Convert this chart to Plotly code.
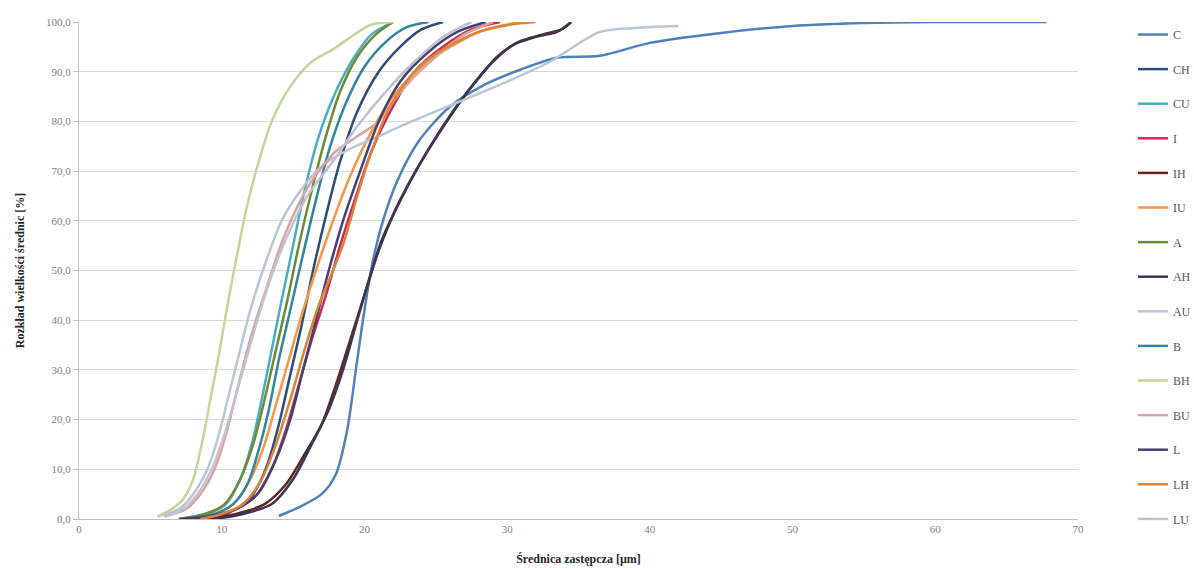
import plotly.graph_objects as go

# Cumulative diameter distributions: equivalent diameter [µm] vs. cumulative share [%]
C_x = [14.0, 15.5, 17.0, 18.0, 18.8, 19.4, 20.0, 20.6, 21.3, 22.3, 23.8, 26.0, 28.5, 31.0, 33.5, 36.5, 40.0, 45.0, 50.0, 55.0, 60.0, 67.8]
C_y = [0.6, 2.5, 5.0, 9.0, 18.0, 30.0, 42.0, 52.0, 60.0, 68.0, 76.0, 83.0, 87.5, 90.5, 92.8, 93.2, 95.8, 97.8, 99.2, 99.8, 100.0, 100.0]

CH_x = [8.0, 9.8, 11.0, 12.2, 13.2, 14.0, 14.8, 15.6, 16.4, 17.3, 18.3, 19.5, 21.0, 22.5, 24.0, 25.5]
CH_y = [0.0, 0.5, 2.0, 5.0, 11.0, 19.0, 29.0, 39.0, 50.0, 61.0, 72.0, 82.0, 90.0, 95.0, 98.5, 100.0]

CU_x = [7.5, 9.0, 10.3, 11.3, 12.1, 12.8, 13.5, 14.2, 15.0, 15.8, 16.8, 18.0, 19.3, 20.5, 22.0]
CU_y = [0.0, 1.0, 3.0, 8.0, 15.0, 24.0, 34.0, 44.0, 55.0, 66.0, 77.0, 86.0, 93.0, 97.5, 100.0]

I_x = [7.5, 9.5, 11.0, 12.5, 13.5, 14.5, 15.4, 16.3, 17.3, 18.3, 19.3, 20.5, 22.0, 23.5, 25.5, 27.5, 29.5]
I_y = [0.0, 0.5, 2.0, 5.0, 10.0, 18.0, 27.0, 36.0, 45.0, 55.0, 64.0, 74.0, 83.0, 90.0, 95.0, 98.5, 100.0]

IH_x = [9.0, 11.0, 13.0, 14.5, 15.8, 17.0, 18.0, 19.0, 20.0, 21.0, 22.3, 24.0, 26.0, 27.5, 29.0, 30.5, 32.0, 33.5, 34.4]
IH_y = [0.0, 1.0, 3.0, 7.0, 13.0, 19.0, 27.0, 36.0, 45.0, 54.0, 63.0, 72.0, 81.0, 87.0, 92.0, 95.5, 97.0, 98.0, 99.8]

IU_x = [8.0, 9.5, 10.8, 12.0, 13.0, 13.8, 14.7, 15.6, 16.6, 17.8, 19.0, 20.5, 22.0, 24.0, 26.0, 28.5, 31.0]
IU_y = [0.0, 1.0, 3.0, 8.0, 15.0, 23.0, 32.0, 41.0, 50.0, 60.0, 69.0, 78.0, 85.0, 91.0, 95.0, 98.5, 100.0]

A_x = [7.0, 8.8, 10.2, 11.3, 12.2, 13.0, 13.8, 14.6, 15.4, 16.3, 17.3, 18.3, 19.5, 20.8, 22.0]
A_y = [0.0, 1.0, 3.0, 8.0, 15.0, 24.0, 34.0, 44.0, 55.0, 66.0, 77.0, 86.0, 93.0, 97.5, 100.0]

AH_x = [9.5, 11.5, 13.5, 15.0, 16.3, 17.5, 18.5, 19.4, 20.3, 21.2, 22.5, 24.2, 26.2, 27.8, 29.3, 30.8, 32.5, 33.8, 34.5]
AH_y = [0.0, 1.0, 3.0, 8.0, 15.0, 22.0, 30.0, 39.0, 48.0, 56.0, 64.0, 73.0, 82.0, 88.0, 93.0, 96.0, 97.5, 98.5, 100.0]

AU_x = [5.5, 7.0, 8.0, 9.0, 9.8, 10.5, 11.2, 12.0, 13.0, 14.2, 15.5, 17.0, 19.0, 21.0, 22.5, 25.0, 27.5, 30.0, 33.0, 36.5, 39.0, 42.0]
AU_y = [0.5, 2.0, 5.0, 10.0, 17.0, 25.0, 33.0, 42.0, 51.0, 60.0, 66.0, 71.0, 74.5, 77.0, 79.0, 82.0, 85.0, 88.0, 92.0, 98.0, 98.8, 99.2]

B_x = [7.5, 9.5, 10.8, 11.8, 12.6, 13.3, 14.0, 14.8, 15.6, 16.5, 17.5, 18.6, 20.0, 21.5, 23.0, 24.5]
B_y = [0.0, 1.0, 3.0, 7.0, 14.0, 22.0, 32.0, 42.0, 52.0, 63.0, 74.0, 83.0, 91.0, 96.0, 99.0, 100.0]

BH_x = [5.5, 6.5, 7.3, 8.0, 8.6, 9.2, 9.8, 10.4, 11.0, 11.7, 12.5, 13.5, 14.8, 16.3, 17.8, 19.3, 20.5, 22.0]
BH_y = [0.5, 2.0, 4.0, 8.0, 15.0, 24.0, 33.0, 43.0, 52.0, 62.0, 71.0, 80.0, 87.0, 92.0, 94.5, 97.5, 99.5, 100.0]

BU_x = [6.0, 7.5, 8.5, 9.5, 10.3, 11.0, 11.7, 12.4, 13.2, 14.0, 15.0, 16.3, 18.0, 19.5, 21.0, 22.0, 23.5, 25.0, 27.0, 29.0]
BU_y = [0.5, 2.0, 5.0, 10.0, 17.0, 25.0, 33.0, 40.0, 47.0, 54.0, 61.0, 68.0, 74.0, 77.0, 80.0, 84.0, 89.0, 93.0, 97.5, 100.0]

L_x = [7.0, 9.0, 11.0, 12.5, 13.8, 14.8, 15.7, 16.6, 17.5, 18.5, 19.7, 21.0, 22.5, 24.5, 26.5, 28.5]
L_y = [0.0, 0.5, 2.0, 5.0, 12.0, 20.0, 30.0, 40.0, 50.0, 60.0, 70.0, 80.0, 88.0, 94.0, 98.0, 100.0]

LH_x = [8.5, 10.0, 11.5, 12.8, 13.8, 14.8, 15.8, 16.8, 17.8, 18.6, 19.5, 20.5, 21.8, 23.5, 25.5, 28.0, 30.5, 32.0]
LH_y = [0.0, 1.0, 3.0, 8.0, 15.0, 24.0, 34.0, 43.0, 50.0, 56.0, 65.0, 74.0, 83.0, 90.0, 94.5, 98.0, 99.6, 100.0]

LU_x = [6.0, 7.3, 8.3, 9.3, 10.2, 11.0, 11.8, 12.6, 13.5, 14.6, 16.0, 17.8, 19.5, 21.5, 23.5, 25.5, 27.5]
LU_y = [0.5, 2.0, 5.0, 10.0, 17.0, 25.0, 33.0, 41.0, 49.0, 57.0, 65.0, 72.0, 79.0, 86.0, 92.0, 97.0, 100.0]

series_names = ["C", "CH", "CU", "I", "IH", "IU", "A", "AH", "AU", "B", "BH", "BU", "L", "LH", "LU"]
series_x = [C_x, CH_x, CU_x, I_x, IH_x, IU_x, A_x, AH_x, AU_x, B_x, BH_x, BU_x, L_x, LH_x, LU_x]
series_y = [C_y, CH_y, CU_y, I_y, IH_y, IU_y, A_y, AH_y, AU_y, B_y, BH_y, BU_y, L_y, LH_y, LU_y]
series_colors = ["#4F81BD", "#2C4D75", "#4BACC6", "#D0284F", "#632523", "#F79646",
                 "#6F8A35", "#3B3556", "#B9C6D6", "#31859C", "#C3D69B", "#D9A3A0",
                 "#46406E", "#D7853A", "#C4C0D2"]

x_ticks = [0, 10, 20, 30, 40, 50, 60, 70]
y_ticks = [0, 10, 20, 30, 40, 50, 60, 70, 80, 90, 100]

FONT = "Liberation Serif, Times New Roman, serif"

fig = go.Figure()
for name, xs, ys, col in zip(series_names, series_x, series_y, series_colors):
    fig.add_trace(go.Scatter(
        x=xs, y=ys, name=name, mode="lines",
        line=dict(color=col, width=2.5, shape="spline", smoothing=0.8),
        legendgroup=name,
    ))

fig.update_layout(
    width=1194, height=570,
    margin=dict(l=79, r=116, t=22, b=51, autoexpand=False),
    paper_bgcolor="white", plot_bgcolor="white",
    separators=", ",
    font=dict(family=FONT, size=11, color="#595959"),
    showlegend=True,
    legend=dict(
        x=1.055, y=1.004, xanchor="left", yanchor="top",
        font=dict(family=FONT, size=12, color="#595959"),
        tracegroupgap=15.6, itemwidth=30, maxheight=600,
        bgcolor="rgba(0,0,0,0)",
    ),
    xaxis=dict(
        range=[0, 70], tickvals=x_ticks, ticktext=[str(v) for v in x_ticks],
        showgrid=False, zeroline=False, showline=True, linecolor="#BFBFBF", linewidth=1,
        ticks="", tickfont=dict(family=FONT, size=11, color="#7F7F7F"),
        title=dict(text="<b>Średnica zastępcza [µm]</b>", standoff=20,
                   font=dict(family=FONT, size=12, color="#262626")),
    ),
    yaxis=dict(
        range=[0, 100], tickvals=y_ticks, tickformat=".1f",
        showgrid=True, gridcolor="#D9D9D9", gridwidth=1,
        zeroline=False, showline=True, linecolor="#BFBFBF", linewidth=1,
        ticks="outside", ticklen=5, tickcolor="#BFBFBF",
        tickfont=dict(family=FONT, size=11, color="#7F7F7F"),
        title=dict(text="<b>Rozkład wielkości średnic [%]</b>", standoff=18,
                   font=dict(family=FONT, size=12, color="#262626")),
    ),
)

fig.write_html("out.html")
